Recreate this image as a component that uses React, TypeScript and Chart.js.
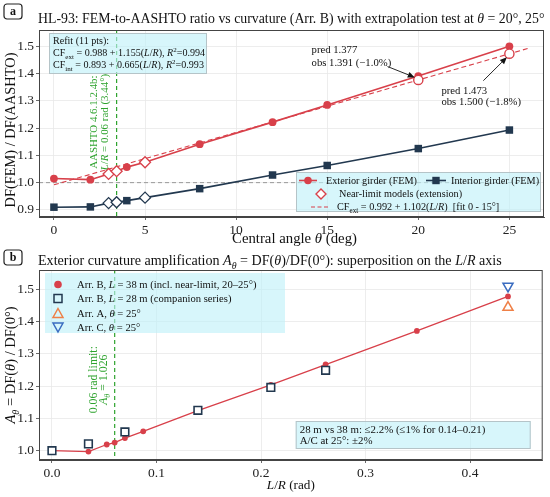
import React, { useEffect, useRef } from "react";
import { Chart, registerables } from "chart.js";
Chart.register(...registerables);

const FONT = '"Liberation Serif", "DejaVu Serif", serif';
const RED = "#d8404a";
const NAVY = "#22384f";
const GREEN = "#2ea32e";
const ORANGE = "#ef8047";
const BLUE = "#3a6cc0";
const BOXFILL = "rgba(190, 240, 248, 0.62)";
const BOXEDGE = "#b5c4c8";
const SMALL_BOOST = 1.05;

// ---------- Panel (a) data ----------
const thetaMain = [0, 2, 4, 8, 12, 15, 20, 25];
const extMain = [1.015, 1.011, 1.057, 1.141, 1.222, 1.285, 1.391, 1.5];
const intMain = [0.91, 0.911, 0.934, 0.978, 1.028, 1.063, 1.125, 1.193];
const thetaNear = [3, 3.44, 5];
const extNear = [1.032, 1.042, 1.075];
const intNear = [0.925, 0.928, 0.945];
const thetaPred = [20, 25];
const extPred = [1.377, 1.473];
const fitTheta = [0, 26];
const fitCF = [0.992, 1.492];
const limitTheta = 3.44;
const refLineA = 1.0;
const xTicksA = [0, 5, 10, 15, 20, 25];
const yTicksA = [0.9, 1.0, 1.1, 1.2, 1.3, 1.4, 1.5];

// ---------- Panel (b) data ----------
const lrB38 = [0, 0.0349, 0.0524, 0.06, 0.0698, 0.0873, 0.1396, 0.2094, 0.2618, 0.3491, 0.4363];
const ampB38 = [1.0, 0.997, 1.019, 1.025, 1.039, 1.06, 1.124, 1.204, 1.267, 1.371, 1.478];
const lrB28 = [0, 0.0349, 0.0698, 0.1396, 0.2094, 0.2618];
const ampB28 = [1.0, 1.021, 1.058, 1.125, 1.196, 1.249];
const lrArrAC = [0.4363];
const ampArrA = [1.444];
const ampArrC = [1.51];
const limitLR = 0.06;
const xTicksB = [0, 0.1, 0.2, 0.3, 0.4];
const yTicksB = [1.0, 1.1, 1.2, 1.3, 1.4, 1.5];

// ---------- rich text helpers ----------
type Seg = { t: string; i: boolean; s: "" | "sub" | "sup" };
function parseRich(s: string): Seg[] {
  const segs: Seg[] = [];
  let it = false;
  let mode: "" | "sub" | "sup" = "";
  let buf = "";
  const flush = () => {
    if (buf) segs.push({ t: buf, i: it, s: mode });
    buf = "";
  };
  for (let k = 0; k < s.length; k++) {
    const c = s[k];
    if (c === "*") {
      flush();
      it = !it;
    } else if ((c === "_" || c === "^") && s[k + 1] === "{") {
      flush();
      mode = c === "_" ? "sub" : "sup";
      k++;
    } else if (c === "}" && mode) {
      flush();
      mode = "";
    } else buf += c;
  }
  flush();
  return segs;
}
function segFont(seg: Seg, size: number, bold = false) {
  const sz = seg.s ? size * 0.7 : size;
  return `${seg.i ? "italic " : ""}${bold ? "bold " : ""}${sz}px ${FONT}`;
}
function richWidth(ctx: CanvasRenderingContext2D, text: string, size: number, bold = false) {
  let w = 0;
  for (const seg of parseRich(text)) {
    ctx.font = segFont(seg, size, bold);
    w += ctx.measureText(seg.t).width;
  }
  return w;
}
function drawRich(
  ctx: CanvasRenderingContext2D,
  text: string,
  x: number,
  y: number,
  size: number,
  color: string,
  align: "left" | "center" | "right" = "left",
  bold = false
) {
  const w = richWidth(ctx, text, size, bold);
  let cx = align === "left" ? x : align === "center" ? x - w / 2 : x - w;
  const base = y + size * 0.33;
  ctx.save();
  ctx.fillStyle = color;
  ctx.textAlign = "left";
  ctx.textBaseline = "alphabetic";
  for (const seg of parseRich(text)) {
    ctx.font = segFont(seg, size, bold);
    const dy = seg.s === "sub" ? size * 0.28 : seg.s === "sup" ? -size * 0.38 : 0;
    ctx.fillText(seg.t, cx, base + dy);
    cx += ctx.measureText(seg.t).width;
  }
  ctx.restore();
}
function drawRotated(ctx: CanvasRenderingContext2D, text: string, x: number, y: number, size: number, color: string) {
  ctx.save();
  ctx.translate(x, y);
  ctx.rotate(-Math.PI / 2);
  drawRich(ctx, text, 0, 0, size, color, "center");
  ctx.restore();
}
function fitSize(ctx: CanvasRenderingContext2D, text: string, target: number) {
  return (14 * target) / richWidth(ctx, text, 14);
}
function box(ctx: CanvasRenderingContext2D, x1: number, y1: number, x2: number, y2: number, edge = true) {
  ctx.save();
  ctx.fillStyle = BOXFILL;
  ctx.fillRect(x1, y1, x2 - x1, y2 - y1);
  if (edge) {
    ctx.strokeStyle = BOXEDGE;
    ctx.lineWidth = 1;
    ctx.strokeRect(x1 + 0.5, y1 + 0.5, x2 - x1 - 1, y2 - y1 - 1);
  }
  ctx.restore();
}
function panelLabel(ctx: CanvasRenderingContext2D, label: string, x: number, y: number) {
  ctx.save();
  ctx.strokeStyle = "#222";
  ctx.lineWidth = 1.2;
  ctx.beginPath();
  (ctx as any).roundRect(x, y, 18, 15, 3);
  ctx.stroke();
  ctx.restore();
  drawRich(ctx, label, x + 9, y + 7, 12, "#111", "center", true);
}
function arrow(ctx: CanvasRenderingContext2D, x1: number, y1: number, x2: number, y2: number) {
  const a = Math.atan2(y2 - y1, x2 - x1);
  const hl = 7;
  const hw = 3;
  ctx.save();
  ctx.strokeStyle = "#111";
  ctx.fillStyle = "#111";
  ctx.lineWidth = 0.9;
  ctx.beginPath();
  ctx.moveTo(x1, y1);
  ctx.lineTo(x2 - Math.cos(a) * hl, y2 - Math.sin(a) * hl);
  ctx.stroke();
  ctx.beginPath();
  ctx.moveTo(x2, y2);
  ctx.lineTo(x2 - Math.cos(a) * hl - Math.sin(a) * hw, y2 - Math.sin(a) * hl + Math.cos(a) * hw);
  ctx.lineTo(x2 - Math.cos(a) * hl + Math.sin(a) * hw, y2 - Math.sin(a) * hl - Math.cos(a) * hw);
  ctx.closePath();
  ctx.fill();
  ctx.restore();
}
function frame(chart: any) {
  const { ctx, chartArea: ca } = chart;
  ctx.save();
  ctx.strokeStyle = "#444";
  ctx.lineWidth = 1;
  ctx.strokeRect(ca.left + 0.5, ca.top + 0.5, ca.right - ca.left - 1, ca.bottom - ca.top - 1);
  ctx.restore();
}
function vline(chart: any, xv: number) {
  const { ctx, chartArea: ca, scales } = chart;
  const px = scales.x.getPixelForValue(xv);
  ctx.save();
  ctx.strokeStyle = GREEN;
  ctx.lineWidth = 1.2;
  ctx.setLineDash([4, 3]);
  ctx.beginPath();
  ctx.moveTo(px, ca.top);
  ctx.lineTo(px, ca.bottom);
  ctx.stroke();
  ctx.restore();
  return px;
}

const tickFont = { family: FONT, size: 13.5 };
function scaleCommon(ticks: number[], min: number, max: number, dec: number, fitProp: "width" | "height", fitVal: number) {
  return {
    type: "linear" as const,
    min,
    max,
    afterBuildTicks: (s: any) => {
      s.ticks = ticks.map((v) => ({ value: v }));
    },
    afterFit: (s: any) => {
      s[fitProp] = fitVal;
    },
    ticks: {
      font: tickFont,
      color: "#222",
      padding: 2,
      callback: (v: any) => Number(v).toFixed(dec),
    },
    grid: { color: "#e8e8e8", lineWidth: 0.8, tickLength: 3, tickColor: "#444", drawTicks: true },
    border: { display: true, color: "#444" },
  };
}

const pointsOf = (xs: number[], ys: number[]) => xs.map((x, i) => ({ x, y: ys[i] }));
const mergedSorted = (xa: number[], ya: number[], xb: number[], yb: number[]) =>
  [...pointsOf(xa, ya), ...pointsOf(xb, yb)].sort((p, q) => p.x - q.x);

function makeChartA(canvas: HTMLCanvasElement) {
  const extAll = mergedSorted(thetaMain, extMain, thetaNear, extNear);
  const intAll = mergedSorted(thetaMain, intMain, thetaNear, intNear);
  const isNear = (ctx: any) => thetaNear.includes(ctx.raw?.x);
  const plugin = {
    id: "decorA",
    beforeDatasetsDraw(chart: any) {
      const { ctx, chartArea: ca, scales } = chart;
      const py = scales.y.getPixelForValue(refLineA);
      ctx.save();
      ctx.strokeStyle = "#999";
      ctx.lineWidth = 1;
      ctx.setLineDash([4, 3]);
      ctx.beginPath();
      ctx.moveTo(ca.left, py);
      ctx.lineTo(ca.right, py);
      ctx.stroke();
      ctx.restore();
      const px = vline(chart, limitTheta);
      const cy = scales.y.getPixelForValue(1.222);
      const gs = fitSize(ctx, "AASHTO 4.6.1.2.4b:", 89) * SMALL_BOOST;
      drawRotated(ctx, "AASHTO 4.6.1.2.4b:", px - 23, cy, gs, GREEN);
      drawRotated(ctx, "*L*/*R* = 0.06 rad (3.44°)", px - 12.5, cy, gs, GREEN);
    },
    afterDatasetsDraw(chart: any) {
      const { ctx, chartArea: ca, scales } = chart;
      const X = (v: number) => scales.x.getPixelForValue(v);
      const Y = (v: number) => scales.y.getPixelForValue(v);
      frame(chart);
      // title
      const title = "HL-93: FEM-to-AASHTO ratio vs curvature (Arr. B) with extrapolation test at *θ* = 20°, 25°";
      drawRich(ctx, title, 38, 18, fitSize(ctx, title, 507), "#111");
      panelLabel(ctx, "a", 4, 4);
      // axis titles
      const xt = "Central angle *θ* (deg)";
      drawRich(ctx, xt, (ca.left + ca.right) / 2 + 3, 238, fitSize(ctx, xt, 125), "#111", "center");
      const yt = "DF(FEM) / DF(AASHTO)";
      drawRotated(ctx, yt, 10, 130, fitSize(ctx, yt, 155), "#111");
      // refit box
      const bx = ca.left + 10;
      const by = ca.top + 3;
      const l2 = "CF_{ext} = 0.988 + 1.155(*L*/*R*), *R*^{2}=0.994";
      const rs = fitSize(ctx, l2, 145) * SMALL_BOOST;
      box(ctx, bx, by, bx + 158, by + 41);
      drawRich(ctx, "Refit (11 pts):", bx + 4, by + 8, rs, "#111");
      drawRich(ctx, l2, bx + 4, by + 20, rs, "#111");
      drawRich(ctx, "CF_{int} = 0.893 + 0.665(*L*/*R*), *R*^{2}=0.993", bx + 4, by + 31.5, rs, "#111");
      // annotations
      const as = fitSize(ctx, "obs 1.391 (−1.0%)", 76) * SMALL_BOOST;
      drawRich(ctx, "pred 1.377", X(14.14), Y(1.489), as, "#111");
      drawRich(ctx, "obs 1.391 (−1.0%)", X(14.14), Y(1.441), as, "#111");
      arrow(ctx, X(18.31), Y(1.426), X(thetaPred[0]) - 3.5, Y(extPred[0]) - 2.5);
      drawRich(ctx, "pred 1.473", X(21.27), Y(1.337), as, "#111");
      drawRich(ctx, "obs 1.500 (−1.8%)", X(21.27), Y(1.296), as, "#111");
      arrow(ctx, X(23.57), Y(1.374), X(thetaPred[1]) - 2.5, Y(extPred[1]) + 3.5);
      // legend
      const lx1 = ca.right - 248;
      const ly1 = ca.bottom - 45;
      box(ctx, lx1, ly1, ca.right - 3, ca.bottom - 5);
      const r1 = ly1 + 8.5;
      const r2 = ly1 + 22;
      const r3 = ly1 + 35;
      ctx.save();
      ctx.lineWidth = 1.6;
      ctx.strokeStyle = RED;
      ctx.beginPath();
      ctx.moveTo(lx1 + 3, r1);
      ctx.lineTo(lx1 + 21, r1);
      ctx.stroke();
      ctx.fillStyle = RED;
      ctx.beginPath();
      ctx.arc(lx1 + 12, r1, 3.8, 0, Math.PI * 2);
      ctx.fill();
      ctx.strokeStyle = NAVY;
      ctx.beginPath();
      ctx.moveTo(lx1 + 130, r1);
      ctx.lineTo(lx1 + 150, r1);
      ctx.stroke();
      ctx.fillStyle = NAVY;
      ctx.fillRect(lx1 + 140 - 3.7, r1 - 3.7, 7.4, 7.4);
      ctx.strokeStyle = RED;
      ctx.lineWidth = 1.4;
      ctx.fillStyle = "#fff";
      ctx.beginPath();
      ctx.moveTo(lx1 + 25, r2 - 5);
      ctx.lineTo(lx1 + 30, r2);
      ctx.lineTo(lx1 + 25, r2 + 5);
      ctx.lineTo(lx1 + 20, r2);
      ctx.closePath();
      ctx.fill();
      ctx.stroke();
      ctx.lineWidth = 1.2;
      ctx.setLineDash([4, 2.5]);
      ctx.beginPath();
      ctx.moveTo(lx1 + 15, r3);
      ctx.lineTo(lx1 + 33, r3);
      ctx.stroke();
      ctx.restore();
      const ls = fitSize(ctx, "Near-limit models (extension)", 122) * 1.01;
      drawRich(ctx, "Exterior girder (FEM)", lx1 + 30, r1, ls, "#111");
      drawRich(ctx, "Interior girder (FEM)", lx1 + 155, r1, ls, "#111");
      drawRich(ctx, "Near-limit models (extension)", lx1 + 43, r2, ls, "#111");
      drawRich(ctx, "CF_{ext} = 0.992 + 1.102(*L*/*R*)  [fit 0 - 15°]", lx1 + 41, r3, ls, "#111");
    },
  };
  return new Chart(canvas, {
    type: "line",
    data: {
      datasets: [
        {
          label: "pred",
          data: pointsOf(thetaPred, extPred),
          showLine: false,
          pointStyle: "circle",
          pointRadius: 4.6,
          pointBackgroundColor: "#fff",
          pointBorderColor: RED,
          pointBorderWidth: 1.4,
        },
        {
          label: "Exterior girder (FEM)",
          data: extAll,
          borderColor: RED,
          borderWidth: 1.6,
          pointStyle: (c: any) => (isNear(c) ? "rectRot" : "circle"),
          pointRadius: (c: any) => (isNear(c) ? 5.5 : 3.9),
          pointBackgroundColor: (c: any) => (isNear(c) ? "#fff" : RED),
          pointBorderColor: RED,
          pointBorderWidth: (c: any) => (isNear(c) ? 1.3 : 0),
        },
        {
          label: "Interior girder (FEM)",
          data: intAll,
          borderColor: NAVY,
          borderWidth: 1.6,
          pointStyle: (c: any) => (isNear(c) ? "rectRot" : "rect"),
          pointRadius: (c: any) => (isNear(c) ? 5.5 : 5.3),
          pointBackgroundColor: (c: any) => (isNear(c) ? "#fff" : NAVY),
          pointBorderColor: NAVY,
          pointBorderWidth: (c: any) => (isNear(c) ? 1.3 : 0),
        },
        {
          label: "fit",
          data: pointsOf(fitTheta, fitCF),
          borderColor: RED,
          borderWidth: 1.1,
          borderDash: [5, 3],
          pointRadius: 0,
        },
      ],
    },
    options: {
      responsive: false,
      animation: false,
      layout: { padding: { top: 30, right: 5, left: 0, bottom: 0 } },
      plugins: { legend: { display: false }, tooltip: { enabled: false }, title: { display: false } },
      scales: {
        x: scaleCommon(xTicksA, -0.82, 26.9, 0, "height", 31) as any,
        y: scaleCommon(yTicksA, 0.874, 1.56, 1, "width", 39) as any,
      },
    },
    plugins: [plugin],
  } as any);
}

function makeChartB(canvas: HTMLCanvasElement) {
  const plugin = {
    id: "decorB",
    beforeDatasetsDraw(chart: any) {
      const { ctx, scales } = chart;
      const px = vline(chart, limitLR);
      const cy = scales.y.getPixelForValue(1.22);
      const gs = fitSize(ctx, "0.06 rad limit:", 64) * SMALL_BOOST;
      drawRotated(ctx, "0.06 rad limit:", px - 22, cy, gs, GREEN);
      drawRotated(ctx, "*A*_{*θ*} = 1.026", px - 11.5, cy, gs, GREEN);
    },
    afterDatasetsDraw(chart: any) {
      const { ctx, chartArea: ca } = chart;
      frame(chart);
      const title = "Exterior curvature amplification *A*_{*θ*} = DF(*θ*)/DF(0°): superposition on the *L*/*R* axis";
      drawRich(ctx, title, 38, 12, fitSize(ctx, title, 464), "#111");
      panelLabel(ctx, "b", 4, 2);
      drawRich(ctx, "*L*/*R* (rad)", (ca.left + ca.right) / 2, 237, fitSize(ctx, "*L*/*R* (rad)", 48), "#111", "center");
      drawRotated(ctx, "*A*_{*θ*} = DF(*θ*) / DF(0°)", 10, (ca.top + ca.bottom) / 2, 14.5, "#111");
      // legend
      const lx = ca.left + 6;
      const ly = ca.top + 3;
      box(ctx, lx, ly, lx + 240, ly + 60, false);
      const rows = [ly + 11.5, ly + 25.5, ly + 40.5, ly + 54];
      const mx = lx + 13;
      ctx.save();
      ctx.fillStyle = RED;
      ctx.beginPath();
      ctx.arc(mx, rows[0], 3.8, 0, Math.PI * 2);
      ctx.fill();
      ctx.lineWidth = 1.5;
      ctx.strokeStyle = NAVY;
      ctx.strokeRect(mx - 4, rows[1] - 4, 8, 8);
      ctx.strokeStyle = ORANGE;
      ctx.beginPath();
      ctx.moveTo(mx, rows[2] - 5);
      ctx.lineTo(mx + 5, rows[2] + 4);
      ctx.lineTo(mx - 5, rows[2] + 4);
      ctx.closePath();
      ctx.stroke();
      ctx.strokeStyle = BLUE;
      ctx.beginPath();
      ctx.moveTo(mx, rows[3] + 5);
      ctx.lineTo(mx + 5, rows[3] - 4);
      ctx.lineTo(mx - 5, rows[3] - 4);
      ctx.closePath();
      ctx.stroke();
      ctx.restore();
      const tx = lx + 32;
      const l1 = "Arr. B, *L* = 38 m (incl. near-limit, 20–25°)";
      const ls = fitSize(ctx, l1, 171) * SMALL_BOOST;
      drawRich(ctx, l1, tx, rows[0], ls, "#111");
      drawRich(ctx, "Arr. B, *L* = 28 m (companion series)", tx, rows[1], ls, "#111");
      drawRich(ctx, "Arr. A, *θ* = 25°", tx, rows[2], ls, "#111");
      drawRich(ctx, "Arr. C, *θ* = 25°", tx, rows[3], ls, "#111");
      // text box
      const bx2 = ca.right - 247;
      const by2 = ca.bottom - 39;
      const t1 = "28 m vs 38 m: ≤2.2% (≤1% for 0.14–0.21)";
      const ts = fitSize(ctx, t1, 177) * SMALL_BOOST;
      box(ctx, bx2, by2, bx2 + 235, by2 + 28);
      drawRich(ctx, t1, bx2 + 4, by2 + 8.3, ts, "#111");
      drawRich(ctx, "A/C at 25°: ±2%", bx2 + 4, by2 + 19.7, ts, "#111");
    },
  };
  return new Chart(canvas, {
    type: "line",
    data: {
      datasets: [
        {
          label: "Arr. C",
          data: pointsOf(lrArrAC, ampArrC),
          showLine: false,
          pointStyle: "triangle",
          rotation: 180,
          pointRadius: 5.8,
          pointBackgroundColor: "rgba(255,255,255,0)",
          pointBorderColor: BLUE,
          pointBorderWidth: 1.5,
        },
        {
          label: "Arr. A",
          data: pointsOf(lrArrAC, ampArrA),
          showLine: false,
          pointStyle: "triangle",
          pointRadius: 5.8,
          pointBackgroundColor: "rgba(255,255,255,0)",
          pointBorderColor: ORANGE,
          pointBorderWidth: 1.5,
        },
        {
          label: "Arr. B, L = 28 m",
          data: pointsOf(lrB28, ampB28),
          showLine: false,
          pointStyle: "rect",
          pointRadius: 5.4,
          pointBackgroundColor: "#fff",
          pointBorderColor: NAVY,
          pointBorderWidth: 1.6,
        },
        {
          label: "Arr. B, L = 38 m",
          data: pointsOf(lrB38, ampB38),
          borderColor: RED,
          borderWidth: 1.3,
          pointStyle: "circle",
          pointRadius: 2.9,
          pointBackgroundColor: RED,
          pointBorderWidth: 0,
        },
      ],
    },
    options: {
      responsive: false,
      animation: false,
      layout: { padding: { top: 22, right: 5, left: 0, bottom: 0 } },
      plugins: { legend: { display: false }, tooltip: { enabled: false }, title: { display: false } },
      scales: {
        x: scaleCommon(xTicksB, -0.0124, 0.4695, 1, "height", 37) as any,
        y: scaleCommon(yTicksB, 0.971, 1.56, 1, "width", 39) as any,
      },
    },
    plugins: [plugin],
  } as any);
}

export default function App() {
  const refA = useRef<HTMLCanvasElement>(null);
  const refB = useRef<HTMLCanvasElement>(null);
  useEffect(() => {
    const a = makeChartA(refA.current!);
    const b = makeChartB(refB.current!);
    return () => {
      a.destroy();
      b.destroy();
    };
  }, []);
  return (
    <div style={{ position: "absolute", left: 0, top: 0, width: 550, height: 497, background: "#fff" }}>
      <canvas ref={refA} width={550} height={248} style={{ position: "absolute", left: 0, top: 0, width: 550, height: 248 }} />
      <canvas ref={refB} width={550} height={249} style={{ position: "absolute", left: 0, top: 248, width: 550, height: 249 }} />
    </div>
  );
}
